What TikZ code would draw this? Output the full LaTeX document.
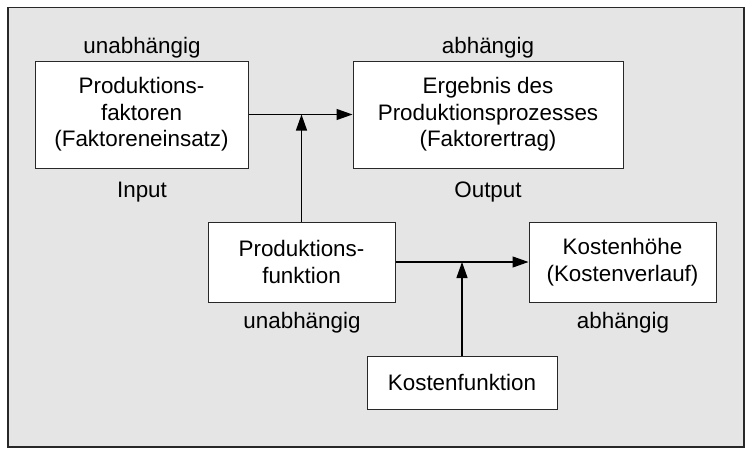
\documentclass[tikz,border=0pt]{standalone}
\usepackage{fontspec}
\setmainfont{Liberation Sans}
\usetikzlibrary{arrows.meta}
\definecolor{bggray}{RGB}{229,229,229}
\definecolor{linegray}{RGB}{40,40,40}
\tikzset{
  box/.style={draw=linegray, line width=1pt, fill=white, align=center, inner sep=0pt},
  lbl/.style={anchor=base, inner sep=0pt},
  arr/.style={line width=1.2pt, -{Triangle[length=16pt,width=11pt]}}
}
\begin{document}
\begin{tikzpicture}[x=1pt,y=-1pt, font=\fontsize{22.4}{26.5}\selectfont]
\useasboundingbox (0,0) rectangle (752,455);
\draw[fill=bggray, draw=linegray, line width=1.4pt] (8,7.5) rectangle (744,447);
\node[box, minimum width=213pt, minimum height=107pt] (b1) at (141.5,114.5) {Produktions-\\faktoren\\(Faktoreneinsatz)};
\node[box, minimum width=270pt, minimum height=107pt] (b2) at (488,114.5) {Ergebnis des\\Produktionsprozesses\\(Faktorertrag)};
\node[box, minimum width=187pt, minimum height=80pt] (b3) at (301.5,262) {Produktions-\\funktion};
\node[box, minimum width=187pt, minimum height=80pt] (b4) at (622.5,262) {Kostenhöhe\\(Kostenverlauf)};
\node[box, minimum width=190pt, minimum height=53pt] (b5) at (462,382.5) {Kostenfunktion};
\node[lbl] (l1) at (142,53) {unabhängig};
\node[lbl] (l2) at (488,53) {abhängig};
\node[lbl] (l3) at (142,197) {Input};
\node[lbl] (l4) at (488,197) {Output};
\node[lbl] (l5) at (302,328) {unabhängig};
\node[lbl] (l6) at (623,328) {abhängig};
\draw[arr] (b1.east) -- (b2.west);
\draw[arr] (b3.north) -- (b3.north |- b1.east);
\draw[arr] (b3.east) -- (b4.west);
\draw[arr] (b5.north) -- (b5.north |- b3.east);
\end{tikzpicture}
\end{document}
